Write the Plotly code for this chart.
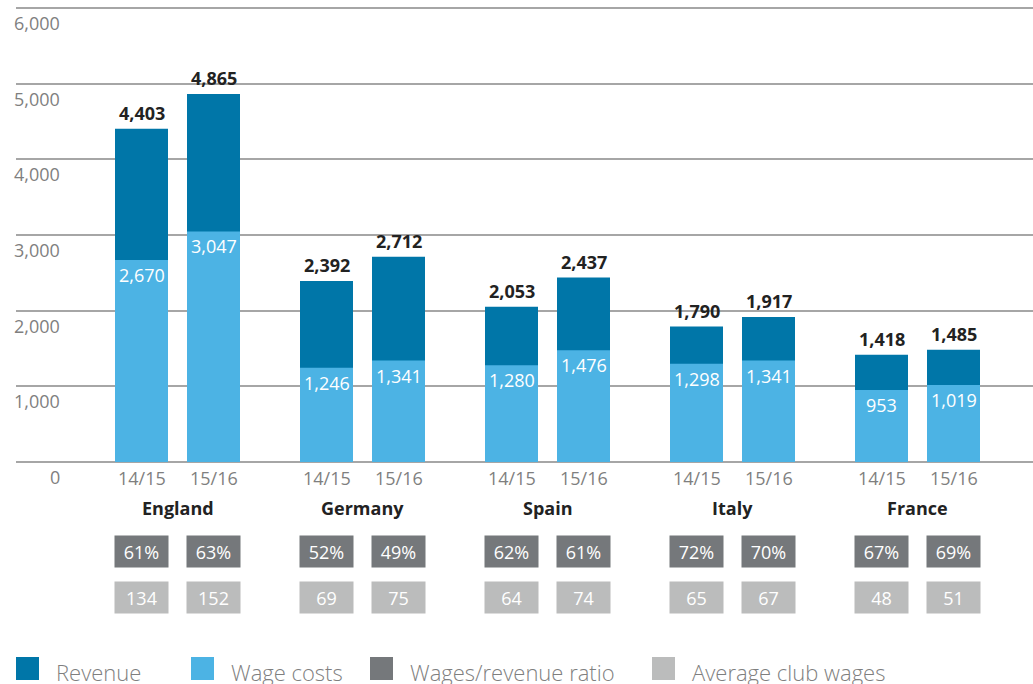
import plotly.graph_objects as go

countries = ["England", "Germany", "Spain", "Italy", "France"]
seasons = ["14/15", "15/16"]
revenue = [4403, 4865, 2392, 2712, 2053, 2437, 1790, 1917, 1418, 1485]
wages = [2670, 3047, 1246, 1341, 1280, 1476, 1298, 1341, 953, 1019]
ratio = ["61%", "63%", "52%", "49%", "62%", "61%", "72%", "70%", "67%", "69%"]
avg_wages = ["134", "152", "69", "75", "64", "74", "65", "67", "48", "51"]
y_ticks = [0, 1000, 2000, 3000, 4000, 5000, 6000]
legend_labels = ["Revenue", "Wage costs", "Wages/revenue ratio", "Average club wages"]

C_REV = "#0076A8"
C_WAGE = "#4CB3E4"
C_RATIO = "#75787B"
C_AVG = "#BBBCBC"
FONT = "Open Sans"

W, H = 1033, 684
ZERO_PX = 462      # pixel row of the zero line
TOP_PX = 8         # pixel row of the 6000 line
ML, MR, MT = 16, 0, 4
MB = H - ZERO_PX
PW = W - ML - MR
PH = H - MT - MB
Y_MAX = 6000 * PH / (ZERO_PX - TOP_PX)

GROUP_STEP = 185
BAR_STEP = 72
BAR_W = 53

xs = []
for gi in range(len(countries)):
    for si in range(len(seasons)):
        xs.append(gi * GROUP_STEP + si * BAR_STEP)
group_centers = [gi * GROUP_STEP + BAR_STEP / 2 for gi in range(len(countries))]

x0 = -(141.5 - ML)
x_range = [x0, x0 + PW]

def fmt(v):
    return f"{v:,}"

fig = go.Figure()
fig.add_trace(go.Bar(
    x=xs, y=revenue, width=BAR_W, marker=dict(color=C_REV, line=dict(width=0)),
    name="Revenue", hoverinfo="skip", showlegend=False))
fig.add_trace(go.Bar(
    x=xs, y=wages, width=BAR_W, marker=dict(color=C_WAGE, line=dict(width=0)),
    name="Wage costs", hoverinfo="skip", showlegend=False))

ann = []
for x, v in zip(xs, revenue):
    ann.append(dict(x=x, y=v, xref="x", yref="y", text=fmt(v), showarrow=False,
                    yshift=16, font=dict(family=FONT, size=18, color="#222222", weight="bold")))
for x, v in zip(xs, wages):
    ann.append(dict(x=x, y=v, xref="x", yref="y", text=fmt(v), showarrow=False,
                    yshift=-15, font=dict(family=FONT, size=18, color="#FFFFFF")))
for i, x in enumerate(xs):
    ann.append(dict(x=x, y=0, xref="x", yref="y", text=seasons[i % 2], showarrow=False,
                    yshift=-16, font=dict(family=FONT, size=18, color="#7F7F7F")))
for xc, c in zip(group_centers, countries):
    ann.append(dict(x=xc, y=0, xref="x", yref="y", text=c, showarrow=False,
                    yshift=-46, font=dict(family=FONT, size=18, color="#222222", weight="bold")))
for x, t in zip(xs, ratio):
    ann.append(dict(x=x, y=0, xref="x", yref="y", text=t, showarrow=False,
                    yshift=-89.5, width=BAR_W, height=31, bgcolor=C_RATIO, borderpad=0,
                    font=dict(family=FONT, size=18, color="#FFFFFF")))
for x, t in zip(xs, avg_wages):
    ann.append(dict(x=x, y=0, xref="x", yref="y", text=t, showarrow=False,
                    yshift=-135.5, width=BAR_W, height=31, bgcolor=C_AVG, borderpad=0,
                    font=dict(family=FONT, size=18, color="#FFFFFF")))
for v in y_ticks:
    ann.append(dict(x=(62 - ML) / PW, y=v, xref="paper", yref="y", text=fmt(v),
                    showarrow=False, xanchor="right", yshift=-15,
                    font=dict(family=FONT, size=18, color="#7F7F7F")))

shapes = []
leg_sq_x = [16, 191, 370, 652]
leg_colors = [C_REV, C_WAGE, C_RATIO, C_AVG]
def px_x(p):
    return (p - ML) / PW
def px_y(p):
    return (H - MB - p) / PH
for lx, lc, lt in zip(leg_sq_x, leg_colors, legend_labels):
    shapes.append(dict(type="rect", xref="paper", yref="paper",
                       x0=px_x(lx), x1=px_x(lx + 23), y0=px_y(680), y1=px_y(657),
                       fillcolor=lc, line=dict(width=0), layer="above"))
    ann.append(dict(x=px_x(lx + 38), y=px_y(672), xref="paper", yref="paper", text=lt,
                    showarrow=False, xanchor="left", yanchor="middle",
                    font=dict(family=FONT, size=22, color="#7F7F7F", weight=300)))

fig.update_layout(
    width=W, height=H,
    margin=dict(l=ML, r=MR, t=MT, b=MB, pad=0),
    barmode="overlay",
    plot_bgcolor="white", paper_bgcolor="white",
    xaxis=dict(range=x_range, showgrid=False, zeroline=False, showticklabels=False,
               showline=False, fixedrange=True),
    yaxis=dict(range=[0, Y_MAX], tickvals=y_ticks, showticklabels=False,
               showgrid=True, gridcolor="#A6A6A6", gridwidth=1.5,
               zeroline=True, zerolinecolor="#A6A6A6", zerolinewidth=1.5,
               showline=False, fixedrange=True),
    annotations=ann,
    shapes=shapes,
    showlegend=False,
)

fig.write_html("out.html", config={"displayModeBar": False},
               post_script="document.body.style.margin='0';")
